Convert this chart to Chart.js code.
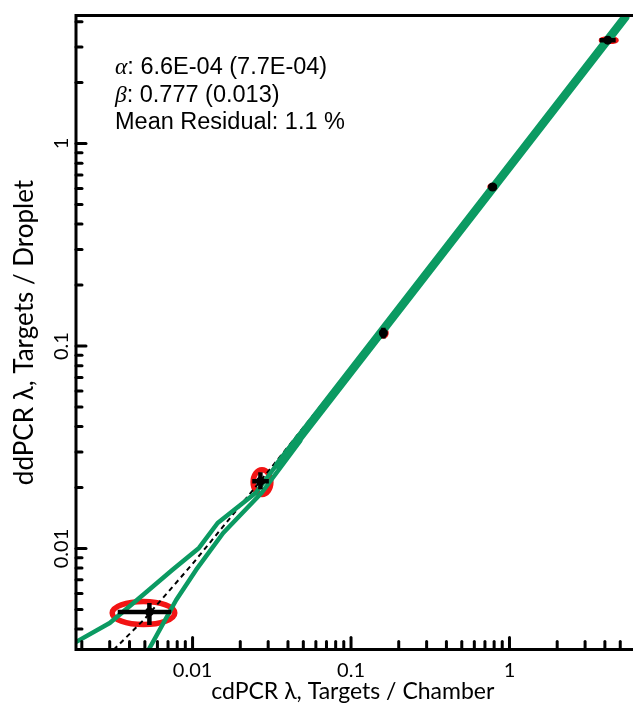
<!DOCTYPE html>
<html>
<head>
<meta charset="utf-8">
<script src="https://cdn.jsdelivr.net/npm/chart.js@4/dist/chart.umd.min.js"></script>
<style>
  html, body { margin: 0; padding: 0; background: #fff; }
  #wrap { width: 634px; height: 707px; }
</style>
</head>
<body>
<div id="wrap"><canvas id="c" width="634" height="707"></canvas></div>
<script>
// Calibration samples: cdPCR λ (targets / chamber) vs ddPCR λ (targets / droplet)
const cdpcr = [0.00534, 0.0268, 0.160, 0.783, 4.17];
const ddpcr = [0.00486, 0.0215, 0.116, 0.610, 3.24];

// Error bar limits
const cdLow  = [0.00337, 0.0238, 0.152, 0.735, 3.71];
const cdHigh = [0.00734, 0.0303, 0.169, 0.834, 4.68];
const ddLow  = [0.00419, 0.0196, 0.109, 0.588, 3.17];
const ddHigh = [0.00538, 0.0238, 0.123, 0.633, 3.31];

// Replicate spread ellipses (extent along each axis)
const ellCdLow  = [0.00311, 0.0241, 0.153, 0.745, 3.76];
const ellCdHigh = [0.00772, 0.0312, 0.168, 0.825, 4.76];
const ellDdLow  = [0.00421, 0.0185, 0.111, 0.595, 3.17];
const ellDdHigh = [0.00547, 0.0245, 0.121, 0.625, 3.31];

// Fitted response and its confidence bounds
const fitX = [0.0348, 0.783, 6.24];
const fitY = [0.0259, 0.600, 4.89];
const upperX = [0.001686, 0.003001, 0.005115, 0.007442, 0.01098, 0.01440, 0.02497, 0.04642];
const upperY = [0.003322, 0.004287, 0.006099, 0.007834, 0.01006, 0.01336, 0.01879, 0.03594];
const lowerX = [0.00519, 0.00788, 0.01052, 0.01560, 0.02723, 0.04777];
const lowerY = [0.003083, 0.005567, 0.007834, 0.01193, 0.01879, 0.03396];

// Linear model line (dashed)
const modelX = [0.002, 0.005, 0.01, 0.03, 0.1, 1, 6];
const modelY = [0.0022, 0.0045, 0.0084, 0.024, 0.078, 0.78, 4.7];

// Axis ticks
const majorTicks = [0.01, 0.1, 1];
const xMinorTicks = [0.002, 0.003, 0.004, 0.005, 0.006, 0.007, 0.008, 0.009,
                     0.02, 0.03, 0.04, 0.05, 0.06, 0.07, 0.08, 0.09,
                     0.2, 0.3, 0.4, 0.5, 0.6, 0.7, 0.8, 0.9, 2, 3, 4, 5];
const yMinorTicks = [0.004, 0.005, 0.006, 0.007, 0.008, 0.009,
                     0.02, 0.03, 0.04, 0.05, 0.06, 0.07, 0.08, 0.09,
                     0.2, 0.3, 0.4, 0.5, 0.6, 0.7, 0.8, 0.9, 2, 3, 4];

// Fit statistics
const statLines = [
  { sym: 'α', text: ': 6.6E-04 (7.7E-04)' },
  { sym: 'β', text: ': 0.777 (0.013)' },
  { sym: '',  text: 'Mean Residual: 1.1 %' }
];

const GREEN = '#0b9a62';
const RED = '#f21414';

const pts = (xs, ys) => xs.map((v, i) => ({ x: v, y: ys[i] }));

const decor = {
  id: 'decor',
  beforeDatasetsDraw(chart) {
    const { ctx, scales: { x, y } } = chart;
    ctx.save();
    ctx.strokeStyle = RED;
    for (let i = 0; i < cdpcr.length; i++) {
      const x0 = x.getPixelForValue(ellCdLow[i]), x1 = x.getPixelForValue(ellCdHigh[i]);
      const y0 = y.getPixelForValue(ellDdLow[i]), y1 = y.getPixelForValue(ellDdHigh[i]);
      ctx.lineWidth = i < 2 ? 5.5 : 4;
      ctx.beginPath();
      ctx.ellipse((x0 + x1) / 2, (y0 + y1) / 2, Math.abs(x1 - x0) / 2, Math.abs(y1 - y0) / 2, 0, 0, Math.PI * 2);
      ctx.stroke();
    }
    ctx.restore();
  },
  afterDatasetsDraw(chart) {
    const { ctx, chartArea: a, scales: { x, y } } = chart;
    ctx.save();
    // error bars
    ctx.strokeStyle = '#000';
    ctx.lineWidth = 4.5;
    ctx.lineCap = 'butt';
    for (let i = 0; i < cdpcr.length; i++) {
      const cx = x.getPixelForValue(cdpcr[i]), cy = y.getPixelForValue(ddpcr[i]);
      ctx.beginPath();
      ctx.moveTo(x.getPixelForValue(cdLow[i]), cy);
      ctx.lineTo(x.getPixelForValue(cdHigh[i]), cy);
      ctx.moveTo(cx, y.getPixelForValue(ddLow[i]));
      ctx.lineTo(cx, y.getPixelForValue(ddHigh[i]));
      ctx.stroke();
    }
    // frame
    ctx.lineWidth = 3;
    ctx.lineCap = 'square';
    ctx.beginPath();
    ctx.moveTo(a.right + 2, a.top);
    ctx.lineTo(a.left, a.top);
    ctx.lineTo(a.left, a.bottom);
    ctx.lineTo(a.right + 2, a.bottom);
    ctx.stroke();
    // inward tick marks
    ctx.lineCap = 'round';
    const xTick = (v, len) => {
      const p = x.getPixelForValue(v);
      ctx.beginPath(); ctx.moveTo(p, a.bottom); ctx.lineTo(p, a.bottom - len); ctx.stroke();
    };
    const yTick = (v, len) => {
      const p = y.getPixelForValue(v);
      ctx.beginPath(); ctx.moveTo(a.left, p); ctx.lineTo(a.left + len, p); ctx.stroke();
    };
    majorTicks.forEach(v => { xTick(v, 12); yTick(v, 10); });
    xMinorTicks.forEach(v => xTick(v, 8));
    yMinorTicks.forEach(v => yTick(v, 6));
    // fit statistics
    ctx.fillStyle = '#000';
    ctx.textBaseline = 'alphabetic';
    const left = 115;
    let base = 74;
    statLines.forEach(line => {
      let cur = left;
      if (line.sym) {
        ctx.font = 'italic 23.5px "Liberation Serif"';
        ctx.fillText(line.sym, cur, base);
        cur += ctx.measureText(line.sym).width;
      }
      ctx.font = '23.5px "Liberation Sans"';
      ctx.fillText(line.text, cur, base);
      base += 27.5;
    });
    ctx.restore();
  }
};

new Chart(document.getElementById('c'), {
  type: 'scatter',
  data: {
    datasets: [
      {
        data: pts(cdpcr, ddpcr),
        showLine: false,
        pointRadius: 4.5,
        pointBackgroundColor: '#000',
        pointBorderColor: '#000',
        pointBorderWidth: 0,
        order: 0
      },
      {
        type: 'line', data: pts(fitX, fitY),
        borderColor: GREEN, borderWidth: 8.5, pointRadius: 0, fill: false,
        borderCapStyle: 'round', borderJoinStyle: 'round', clip: 0, order: 1
      },
      {
        type: 'line', data: pts(upperX, upperY),
        borderColor: GREEN, borderWidth: 4.5, pointRadius: 0, fill: false,
        borderCapStyle: 'round', borderJoinStyle: 'round', clip: 0, order: 2
      },
      {
        type: 'line', data: pts(lowerX, lowerY),
        borderColor: GREEN, borderWidth: 4.5, pointRadius: 0, fill: false,
        borderCapStyle: 'round', borderJoinStyle: 'round', clip: 0, order: 3
      },
      {
        type: 'line', data: pts(modelX, modelY),
        borderColor: '#000', borderWidth: 2, borderDash: [5, 4], pointRadius: 0,
        fill: false, clip: 0, order: 4
      }
    ]
  },
  options: {
    responsive: false,
    animation: false,
    events: [],
    layout: { padding: { top: 15.5, right: 0, left: 0, bottom: 0 } },
    plugins: { legend: { display: false }, tooltip: { enabled: false } },
    scales: {
      x: {
        type: 'logarithmic',
        position: 'bottom',
        min: 0.001838,
        max: 5.72,
        afterBuildTicks: s => { s.ticks = majorTicks.map(v => ({ value: v, major: true })); },
        afterFit: s => { s.height = 57.5; },
        grid: { display: false, drawTicks: false },
        border: { display: false },
        ticks: {
          autoSkip: false, maxRotation: 0, minRotation: 0,
          padding: 9, color: '#000',
          font: { family: 'Lato', size: 20 },
          callback: v => String(v)
        },
        title: {
          display: true, text: 'cdPCR λ, Targets / Chamber', color: '#000',
          font: { family: 'Lato', size: 23 }, padding: { top: 0, bottom: 2 }
        }
      },
      y: {
        type: 'logarithmic',
        position: 'left',
        min: 0.00317,
        max: 4.29,
        afterBuildTicks: s => { s.ticks = majorTicks.map(v => ({ value: v, major: true })); },
        afterFit: s => { s.width = 76; },
        grid: { display: false, drawTicks: false },
        border: { display: false },
        ticks: {
          autoSkip: false, minRotation: 90, maxRotation: 90, crossAlign: 'center',
          padding: -5, color: '#000',
          font: { family: 'Lato', size: 20 },
          callback: v => String(v)
        },
        title: {
          display: true, text: 'ddPCR λ, Targets / Droplet', color: '#000',
          font: { family: 'Lato', size: 26 }, padding: { top: 9, bottom: 0 }
        }
      }
    }
  },
  plugins: [decor]
});
</script>
</body>
</html>
